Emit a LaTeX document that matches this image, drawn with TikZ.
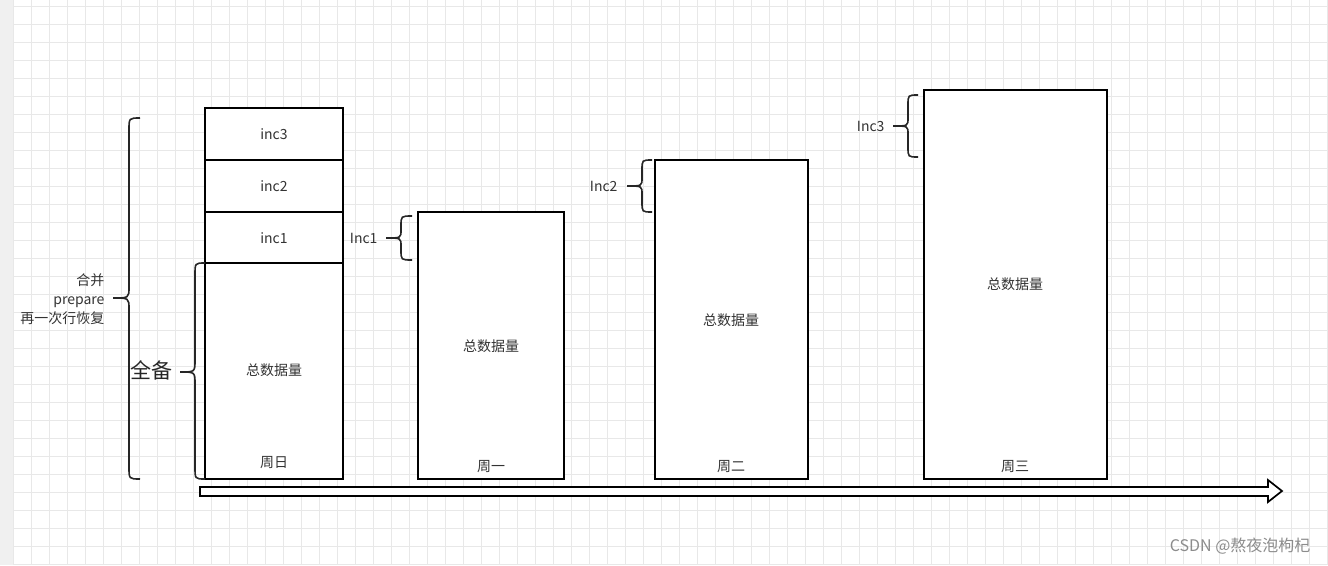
\documentclass[tikz,border=0pt]{standalone}
\usepackage{fontspec}
\setmainfont{Noto Sans CJK SC}
\begin{document}
\begin{tikzpicture}[x=1pt,y=-1pt,
  box/.style={draw=black,line width=1.8pt,fill=white},
  lbl/.style={font=\fontsize{14}{16}\selectfont,text=black!80},
  brc/.style={draw=black!85,line width=1.6pt}]
\useasboundingbox (0,0) rectangle (1328,565);
\fill[white] (0,0) rectangle (1328,565);
\fill[black!6] (0,0) rectangle (13,565);
\foreach \i in {0,...,73} \draw[black!9,line width=0.8pt] (13+18*\i,0) -- (13+18*\i,565);
\foreach \i in {0,...,31} \draw[black!9,line width=0.8pt] (13,6+18*\i) -- (1328,6+18*\i);
% Sunday stack
\draw[box] (205,108) rectangle (343,160); \node[lbl] (i3) at (274,134) {inc3};
\draw[box] (205,160) rectangle (343,212); \node[lbl] (i2) at (274,186) {inc2};
\draw[box] (205,212) rectangle (343,263); \node[lbl] (i1) at (274,238) {inc1};
\draw[box] (205,263) rectangle (343,479);
\node[lbl] (s0) at (274,370) {总数据量}; \node[lbl] (d0) at (274,463) {周日};
% Monday
\draw[box] (418,212) rectangle (564,479);
\node[lbl] (s1) at (491,346) {总数据量}; \node[lbl] (d1) at (491,467) {周一};
% Tuesday
\draw[box] (655,160) rectangle (808,479);
\node[lbl] (s2) at (731,320) {总数据量}; \node[lbl] (d2) at (731,467) {周二};
% Wednesday
\draw[box] (924,90) rectangle (1107,479);
\node[lbl] (s3) at (1015,284) {总数据量}; \node[lbl] (d3) at (1015,467) {周三};
% braces
\draw[brc] (140,118) .. controls (129,118) .. (129,130) -- (129,287) .. controls (129,298) .. (113,298) .. controls (129,298) .. (129,309) -- (129,467) .. controls (129,479) .. (140,479);
\node[lbl,align=right,anchor=east,font=\fontsize{14}{19}\selectfont] (m) at (108,299) {合并\\prepare\\再一次行恢复};
\draw[brc] (205,263) .. controls (195,263) .. (195,275) -- (195,360) .. controls (195,372) .. (180,372) .. controls (195,372) .. (195,384) -- (195,467) .. controls (195,479) .. (205,479);
\node[font=\fontsize{21}{24}\selectfont,text=black!85,anchor=east] (qb) at (176,370) {全备};
\draw[brc] (412,216) .. controls (401,216) .. (401,226) -- (401,230) .. controls (401,238) .. (386,238) .. controls (401,238) .. (401,246) -- (401,250) .. controls (401,260) .. (412,260);
\node[lbl,anchor=east] (n1) at (381,238) {Inc1};
\draw[brc] (652,160) .. controls (642,160) .. (642,170) -- (642,178) .. controls (642,186) .. (627,186) .. controls (642,186) .. (642,194) -- (642,202) .. controls (642,212) .. (652,212);
\node[lbl,anchor=east] (n2) at (621,186) {Inc2};
\draw[brc] (918,95) .. controls (908,95) .. (908,105) -- (908,118) .. controls (908,126) .. (893,126) .. controls (908,126) .. (908,134) -- (908,147) .. controls (908,157) .. (918,157);
\node[lbl,anchor=east] (n3) at (888,126) {Inc3};
% timeline arrow
\coordinate (a0) at (200,487);
\coordinate (a1) at (1282,491);
\draw[line width=1.7pt,fill=white,line join=miter] (200,487) -- (1268,487) -- (1268,480) -- (1282,491) -- (1268,502) -- (1268,496) -- (200,496) -- cycle;
\node[font=\fontsize{16}{18}\selectfont,text=black!45,anchor=east] (wm) at (1314,546) {CSDN @熬夜泡枸杞};
\end{tikzpicture}
\end{document}
